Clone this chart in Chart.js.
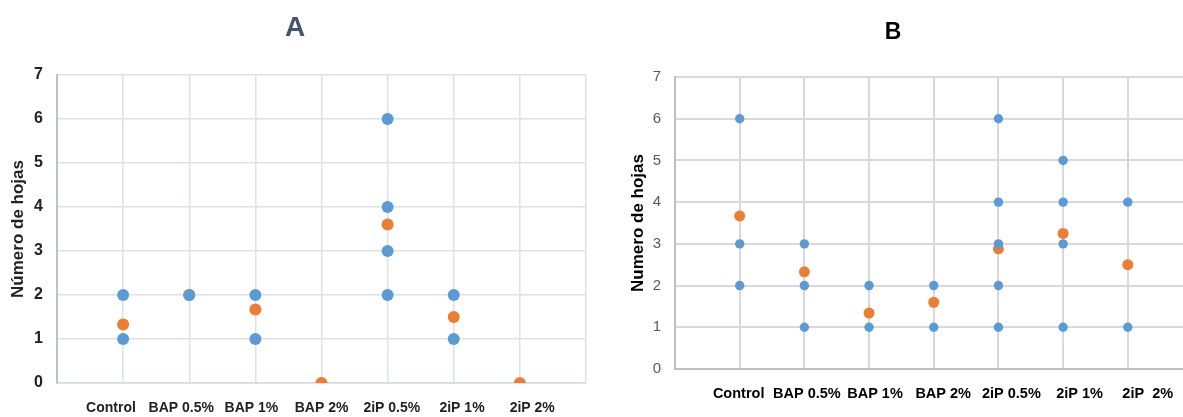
<!DOCTYPE html>
<html>
<head>
<meta charset="utf-8">
<script src="https://cdn.jsdelivr.net/npm/chart.js@4"></script>
<style>
  html, body { margin: 0; padding: 0; background: #fff; }
  #wrapA { position: absolute; left: 0; top: 0; width: 598px; height: 417px; }
  #wrapB { position: absolute; left: 598px; top: 0; width: 585px; height: 417px; overflow: hidden; }
  #wrapB canvas { position: absolute; left: 0; top: 0; }
</style>
</head>
<body>
<div id="wrapA"><canvas id="chartA" width="598" height="417"></canvas></div>
<div id="wrapB"><canvas id="chartB" width="600" height="417"></canvas></div>
<script>
// categories (x axis)
const categoriesA = ['Control', 'BAP 0.5%', 'BAP 1%', 'BAP 2%', '2iP 0.5%', '2iP 1%', '2iP 2%'];
const categoriesB = ['Control', 'BAP 0.5%', 'BAP 1%', 'BAP 2%', '2iP 0.5%', '2iP 1%', '2iP  2%'];

// individual observations (blue) and means (orange), one entry per category
const leavesA = [[2, 1], [2], [2, 1], [], [6, 4, 3, 2], [2, 1], []];
const meanA = [1.33, 2, 1.67, 0, 3.6, 1.5, 0];

const leavesB = [[6, 3, 2], [3, 2, 1], [2, 1], [2, 1], [6, 4, 3, 2, 1], [5, 4, 3, 1], [4, 1]];
const meanB = [3.67, 2.33, 1.34, 1.6, 2.88, 3.25, 2.5];

const yTicks = [0, 1, 2, 3, 4, 5, 6, 7];

const BLUE = '#5b9bd5';
const ORANGE = '#ed7d31';
const SANS = '"Liberation Sans", Arial, sans-serif';

function toPoints(groups) {
  const pts = [];
  groups.forEach((vals, i) => vals.forEach(v => pts.push({ x: i + 1, y: v })));
  return pts;
}

// simple title plugin (panel letter)
const panelTitle = {
  id: 'panelTitle',
  afterDraw(chart, args, o) {
    const ctx = chart.ctx;
    ctx.save();
    ctx.font = o.font;
    ctx.fillStyle = o.color;
    ctx.textAlign = 'center';
    ctx.textBaseline = 'middle';
    ctx.fillText(o.text, o.x, o.y);
    ctx.restore();
  }
};

function makeChart(id, s) {
  return new Chart(document.getElementById(id), {
    type: 'scatter',
    data: {
      datasets: [
        { data: toPoints(s.leaves), backgroundColor: BLUE, pointRadius: s.rBlue, pointBorderWidth: 0, pointHoverRadius: s.rBlue },
        { data: s.mean.map((v, i) => ({ x: i + 1, y: v })), backgroundColor: ORANGE, pointRadius: s.rOrange, pointBorderWidth: 0, pointHoverRadius: s.rOrange }
      ]
    },
    plugins: [panelTitle],
    options: {
      responsive: false,
      animation: false,
      layout: { padding: s.padding },
      plugins: {
        legend: { display: false },
        tooltip: { enabled: false },
        panelTitle: s.title
      },
      scales: {
        x: {
          type: 'linear', min: 0, max: 8, position: 'bottom',
          ticks: { display: false, stepSize: 1 },
          grid: {
            drawTicks: false, lineWidth: s.gridWidth,
            color: c => c.tick.value === 0 ? s.axisColor : s.gridColor
          },
          border: { display: true, color: s.bottomColor, width: s.gridWidth },
          afterFit: sc => { sc.height = 0; }
        },
        xLab: {
          type: 'linear', min: s.labMin, max: s.labMax, position: 'bottom',
          afterBuildTicks: sc => { sc.ticks = s.cats.map((c, i) => ({ value: i + 1 })); },
          ticks: {
            autoSkip: false, maxRotation: 0, minRotation: 0, padding: s.labPad,
            color: s.labColor, font: s.labFont,
            callback: v => s.cats[v - 1] || ''
          },
          grid: { display: false, drawTicks: false },
          border: { display: false },
          afterFit: sc => { sc.height = s.xHeight; }
        },
        y: {
          min: 0, max: 7,
          afterBuildTicks: sc => { sc.ticks = yTicks.map(v => ({ value: v })); },
          ticks: { padding: s.yPad, color: s.yColor, font: s.yFont },
          grid: {
            drawTicks: false, lineWidth: s.gridWidth,
            color: c => c.tick.value === 0 ? s.bottomColor : s.gridColor
          },
          border: { display: true, color: s.axisColor, width: s.axisWidth },
          title: { display: true, text: s.yTitle, color: s.yTitleColor, font: s.yTitleFont, padding: { top: s.yTitlePad, bottom: 0 } },
          afterFit: sc => { sc.width = s.yWidth; }
        }
      }
    }
  });
}

// Panel A
makeChart('chartA', {
  cats: categoriesA, leaves: leavesA, mean: meanA,
  rBlue: 6, rOrange: 6,
  padding: { top: 75, right: 12, left: 0, bottom: 0 },
  title: { text: 'A', x: 295, y: 28, font: 'bold 28px ' + SANS, color: '#44546a' },
  gridColor: '#dde2e8', axisColor: '#b8c1cc', bottomColor: '#d5dae1', gridWidth: 1.5, axisWidth: 2,
  labMin: 0.231, labMax: 7.766, labPad: 17, xHeight: 34,
  labColor: '#222', labFont: { family: SANS, size: 14, weight: 'bold' },
  yPad: 14, yColor: '#222', yFont: { family: SANS, size: 16, weight: 'bold' },
  yTitle: 'Número de hojas', yTitleColor: '#222',
  yTitleFont: { family: SANS, size: 17, weight: 'bold' }, yTitlePad: 8,
  yWidth: 57
});

// Panel B
makeChart('chartB', {
  cats: categoriesB, leaves: leavesB, mean: meanB,
  rBlue: 4.7, rOrange: 5.5,
  padding: { top: 77, right: 3, left: 0, bottom: 0 },
  title: { text: 'B', x: 295, y: 33, font: 'bold 23px ' + SANS, color: '#000' },
  gridColor: '#d9d9d9', axisColor: '#bfbfbf', bottomColor: '#bfbfbf', gridWidth: 2, axisWidth: 2,
  labMin: 0.066, labMax: 7.657, labPad: 16, xHeight: 48,
  labColor: '#000', labFont: { family: SANS, size: 14.5, weight: 'bold' },
  yPad: 14, yColor: '#595959', yFont: { family: SANS, size: 15, weight: 'normal' },
  yTitle: 'Numero de hojas', yTitleColor: '#000',
  yTitleFont: { family: SANS, size: 17, weight: 'bold' }, yTitlePad: 30,
  yWidth: 77
});
</script>
</body>
</html>
